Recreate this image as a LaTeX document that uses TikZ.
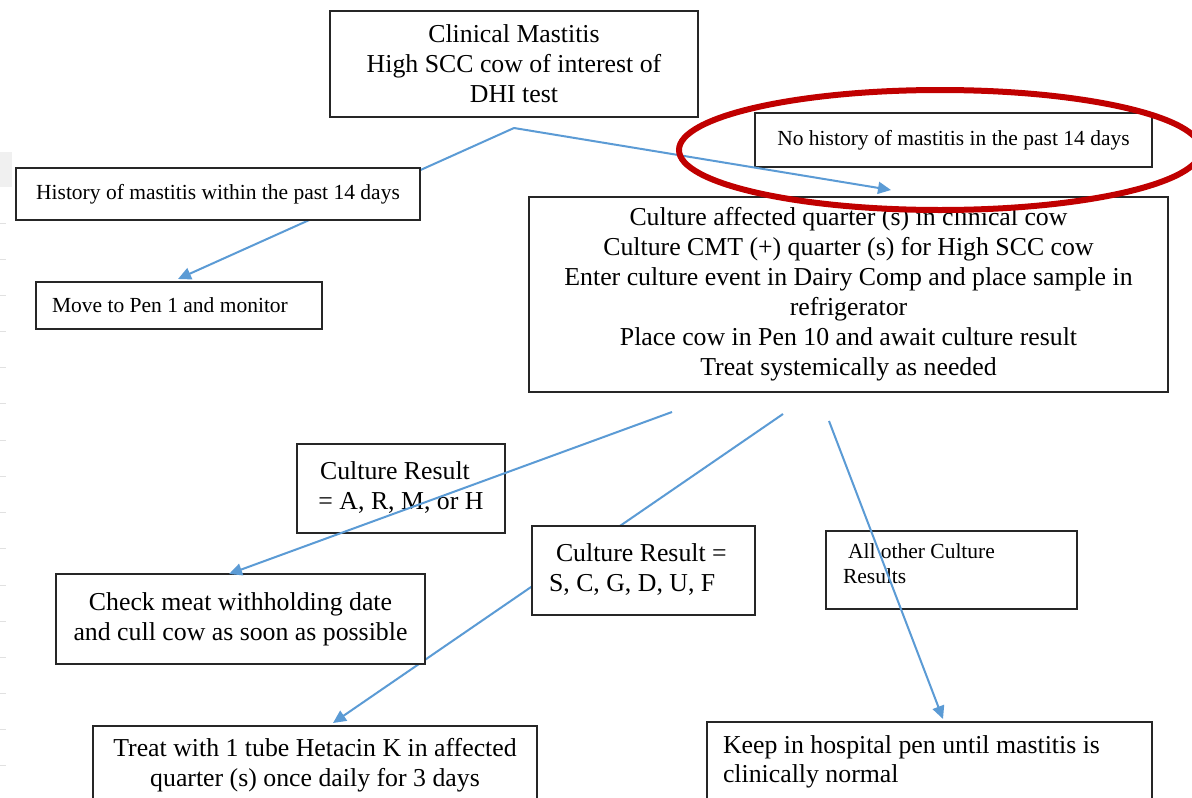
\documentclass[tikz,border=0pt]{standalone}
\usepackage{fontspec}
\setmainfont{Liberation Serif}
\usetikzlibrary{arrows.meta}
\definecolor{flowblue}{RGB}{91,155,213}
\definecolor{markred}{RGB}{192,0,0}
\definecolor{edgegray}{RGB}{225,225,225}
\definecolor{bandgray}{RGB}{240,240,240}
\tikzset{
  box/.style={draw=black!85, line width=1.6pt, fill=white, inner sep=0pt, align=center},
  bigtxt/.style={font=\fontsize{25.8}{30}\selectfont},
  smalltxt/.style={font=\fontsize{21.5}{25}\selectfont},
  flow/.style={draw=flowblue, line width=2pt, -{Triangle[length=13pt,width=12pt]}},
  tick/.style={draw=edgegray, line width=1pt}
}
\begin{document}
\begin{tikzpicture}[x=1pt,y=-1pt]
\useasboundingbox (0,0) rectangle (1192,798);
\clip (0,0) rectangle (1192,798);
\fill[white] (0,0) rectangle (1192,798);
% left screenshot edge artefacts
\fill[bandgray] (0,152) rectangle (12,187);
\foreach \yy in {223,259,295,331,367,403,440,476,512,548,585,621,657,693,729,765}
  \draw[tick] (0,\yy) -- (6,\yy);
% free ends of connectors
\coordinate (s1) at (514,128);
\coordinate (t1) at (178,279);
\coordinate (t2) at (891,190);
\coordinate (s3) at (672,412);
\coordinate (t3) at (229,574);
\coordinate (s4) at (783,414);
\coordinate (t4) at (333,723);
\coordinate (s5) at (829,421);
\coordinate (t5) at (943,719);
% connectors hidden behind boxes
\draw[flow] (s1) -- (t1);
\draw[flow] (s4) -- (t4);
% boxes
\node[box, bigtxt, minimum width=368pt, minimum height=106pt] (top) at (514,64)
  {Clinical Mastitis\\High SCC cow of interest of\\DHI test};
\node[box, smalltxt, minimum width=397pt, minimum height=54pt] (nohist) at (953.5,140)
  {No history of mastitis in the past 14 days};
\node[box, smalltxt, minimum width=404pt, minimum height=52pt] (hist) at (218,194)
  {History of mastitis within the past 14 days};
\node[box, smalltxt, align=flush left, text width=254pt, inner xsep=16pt, minimum height=47pt] (move) at (179,305.5)
  {Move to Pen 1 and monitor};
\node[box, bigtxt, minimum width=639pt, minimum height=195pt] (culture) at (848.5,294.5)
  {Culture affected quarter (s) in clinical cow\\Culture CMT (+) quarter (s) for High SCC cow\\Enter culture event in Dairy Comp and place sample in\\refrigerator\\Place cow in Pen 10 and await culture result\\Treat systemically as needed};
\node[box, bigtxt, minimum width=208pt, minimum height=89pt] (armh) at (401,488.5)
  {Culture Result\hspace*{12pt}\\= A, R, M, or H\hspace*{12pt}\\[-25pt]\mbox{}};
\node[box, bigtxt, align=flush left, text width=189pt, inner xsep=17pt, minimum height=89pt] (scgduf) at (643.5,570.5)
  {\hspace*{7pt}Culture Result =\\S, C, G, D, U, F\\[-25pt]\mbox{}};
\node[box, smalltxt, align=flush left, text width=217pt, inner xsep=17pt, minimum height=78pt] (other) at (951.5,570)
  {\hspace*{5pt}All other Culture\\Results\\[-12pt]\mbox{}};
\node[box, bigtxt, minimum width=369pt, minimum height=90pt] (cull) at (240.5,619)
  {Check meat withholding date\\and cull cow as soon as possible\\[-26pt]\mbox{}};
\node[box, bigtxt, minimum width=444pt, minimum height=78pt] (treat) at (315,765)
  {Treat with 1 tube Hetacin K in affected\\quarter (s) once daily for 3 days};
\node[box, bigtxt, align=flush left, text width=413pt, inner xsep=16pt, minimum height=79pt, font=\fontsize{25.8}{29}\selectfont] (keep) at (929.5,761.5)
  {Keep in hospital pen until mastitis is\\clinically normal};
% connectors drawn over boxes
\draw[flow] (s1) -- (t2);
\draw[flow] (s3) -- (t3);
\draw[flow] (s5) -- (t5);
% red highlight ellipse
\draw[markred, line width=6pt] (940,150) ellipse [x radius=261, y radius=60];
\end{tikzpicture}
\end{document}
